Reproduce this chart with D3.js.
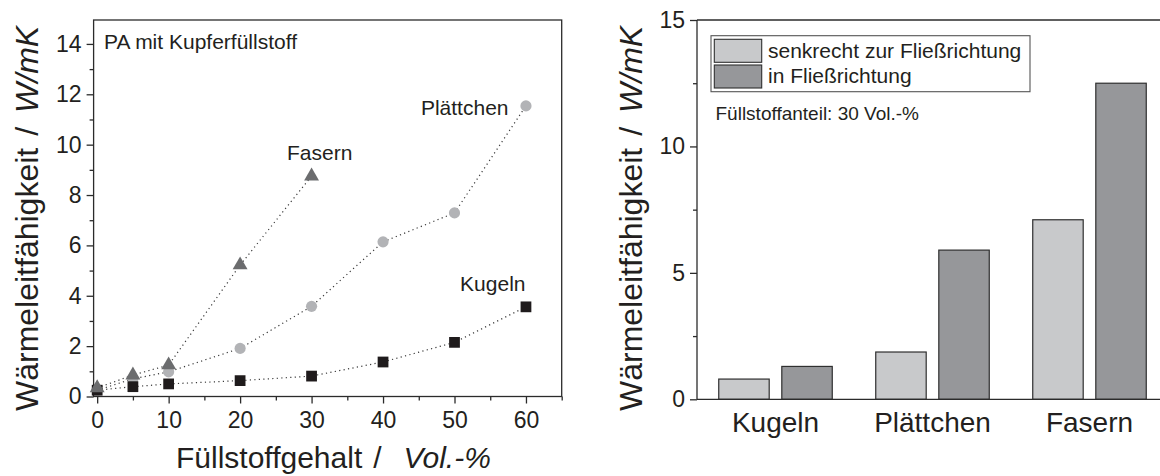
<!DOCTYPE html>
<html>
<head>
<meta charset="utf-8">
<script src="https://cdn.jsdelivr.net/npm/d3@7"></script>
<style>
  html, body { margin: 0; padding: 0; background: #fff; }
  svg { display: block; font-family: "Liberation Sans", Arial, Helvetica, sans-serif; }
</style>
</head>
<body>
<svg id="chart" width="1160" height="476"></svg>
<script>
// Wärmeleitfähigkeit von PA mit Kupferfüllstoff
const fillContent = [0, 5, 10, 20, 30, 40, 50, 60];      // Vol.-%
const kugelnValues = [0.25, 0.39, 0.5, 0.63, 0.81, 1.37, 2.15, 3.56];
const plaettchenValues = [0.25, 0.7, 0.98, 1.91, 3.58, 6.14, 7.29, 11.54];
const fasernContent = [0, 5, 10, 20, 30];
const fasernValues = [0.34, 0.85, 1.25, 5.22, 8.75];

const leftYTicks = [0, 2, 4, 6, 8, 10, 12, 14];
const leftXTicks = [0, 10, 20, 30, 40, 50, 60];

// Balkendiagramm bei 30 Vol.-%
const shapes = ["Kugeln", "Plättchen", "Fasern"];
const directions = ["senkrecht zur Fließrichtung", "in Fließrichtung"];
const perpendicularValues = [0.8, 1.87, 7.1];
const parallelValues = [1.3, 5.9, 12.5];
const rightYTicks = [0, 5, 10, 15];

const ink = "#231f20";
const axisColor = "#2b2b2b";
const svg = d3.select("#chart");

function minorTicks(axis, values, len) {
  return axis.tickValues(values).tickSize(len).tickFormat("");
}
function styleAxis(g) {
  g.select(".domain").remove();
  g.selectAll("line").attr("stroke", axisColor).attr("stroke-width", 1.3);
  g.selectAll("text").attr("fill", ink).style("font-size", "23px");
}

/* ---------- linkes Diagramm ---------- */
const xL = d3.scaleLinear().domain([-0.5, 65]).range([93.6, 561.7]);
const yL = d3.scaleLinear().domain([0, 14.95]).range([396.5, 20]);

const left = svg.append("g");

// Achsen
left.append("g").attr("transform", `translate(${xL.range()[0]},0)`)
  .call(d3.axisLeft(yL).tickValues(leftYTicks).tickSize(7).tickPadding(5).tickFormat(d3.format("d")))
  .call(styleAxis);
left.append("g").attr("transform", `translate(${xL.range()[0]},0)`)
  .call(minorTicks(d3.axisLeft(yL), [1, 3, 5, 7, 9, 11, 13], 4)).call(styleAxis);
left.append("g").attr("transform", `translate(0,${yL(0)})`)
  .call(d3.axisBottom(xL).tickValues(leftXTicks).tickSize(7).tickPadding(8).tickFormat(d3.format("d")))
  .call(styleAxis);
left.append("g").attr("transform", `translate(0,${yL(0)})`)
  .call(minorTicks(d3.axisBottom(xL), [5, 15, 25, 35, 45, 55, 65], 4)).call(styleAxis);

// Rahmen
left.append("rect")
  .attr("x", xL.range()[0]).attr("y", yL.range()[1])
  .attr("width", xL.range()[1] - xL.range()[0])
  .attr("height", yL.range()[0] - yL.range()[1])
  .attr("fill", "none").attr("stroke", axisColor).attr("stroke-width", 1.3);

// punktierte Verbindungslinien
const line = d3.line().x(d => xL(d[0])).y(d => yL(d[1]));
const seriesL = [
  { x: fillContent, v: plaettchenValues, sym: d3.symbolCircle, size: 98, color: "#b2b3b6" },
  { x: fillContent, v: kugelnValues, sym: d3.symbolSquare, size: 116, color: "#1f1b1c" },
  { x: fasernContent, v: fasernValues, sym: d3.symbolTriangle, size: 96, color: "#6b6c6e" }
];
seriesL.forEach(s => {
  left.append("path")
    .attr("d", line(s.x.map((x, i) => [x, s.v[i]])))
    .attr("fill", "none").attr("stroke", "#3a3a3a")
    .attr("stroke-width", 1.2).attr("stroke-dasharray", "1.2,3.3");
});
seriesL.forEach(s => {
  left.append("g").selectAll("path").data(s.x.map((x, i) => [x, s.v[i]])).join("path")
    .attr("transform", d => `translate(${xL(d[0])},${yL(d[1])})`)
    .attr("d", d3.symbol().type(s.sym).size(s.size))
    .attr("fill", s.color);
});

// Beschriftungen
const lblStyle = sel => sel.attr("fill", ink).style("font-size", "21px");
left.append("text").attr("x", 104).attr("y", 48.5).text("PA mit Kupferfüllstoff").call(lblStyle);
left.append("text").attr("x", 287).attr("y", 160).text("Fasern").call(lblStyle);
left.append("text").attr("x", 508.5).attr("y", 115).attr("text-anchor", "end").text("Plättchen").call(lblStyle);
left.append("text").attr("x", 525.5).attr("y", 291).attr("text-anchor", "end").text("Kugeln").call(lblStyle);

// Achsentitel
const xTitle = left.append("text").attr("x", 176).attr("y", 468)
  .attr("fill", ink).style("font-size", "30px");
xTitle.append("tspan").text("Füllstoffgehalt");
xTitle.append("tspan").attr("dx", 11).text("/");
xTitle.append("tspan").attr("dx", 22).style("font-style", "italic").text("Vol.-%");

function yTitle(g, x) {
  const t = g.append("text")
    .attr("transform", `translate(${x},411) rotate(-90)`)
    .attr("fill", ink).style("font-size", "32px");
  t.append("tspan").text("Wärmeleitfähigkeit");
  t.append("tspan").attr("dx", 12).text("/");
  t.append("tspan").attr("dx", 14).style("font-style", "italic").text("W/mK");
}
yTitle(left, 37.5);

/* ---------- rechtes Diagramm ---------- */
const x0 = 697;
const yR = d3.scaleLinear().domain([0, 15]).range([399.3, 20]);
const xR = d3.scaleBand().domain(shapes).range([x0, x0 + 471]).paddingInner(0.277).paddingOuter(0.1385);
const xSub = d3.scaleBand().domain(directions).range([0, xR.bandwidth()]).paddingInner(0.2);
const barColors = ["#c8c9cb", "#96979a"];

const right = svg.append("g");

right.append("g").attr("transform", `translate(${x0},0)`)
  .call(d3.axisLeft(yR).tickValues(rightYTicks).tickSize(7).tickPadding(5).tickFormat(d3.format("d")))
  .call(styleAxis);
right.append("g").attr("transform", `translate(${x0},0)`)
  .call(minorTicks(d3.axisLeft(yR), [2.5, 7.5, 12.5], 4)).call(styleAxis);

// Balken
const barData = [];
shapes.forEach((s, i) => {
  barData.push({ shape: s, dir: directions[0], v: perpendicularValues[i], c: barColors[0] });
  barData.push({ shape: s, dir: directions[1], v: parallelValues[i], c: barColors[1] });
});
right.append("g").selectAll("rect").data(barData).join("rect")
  .attr("x", d => xR(d.shape) + xSub(d.dir))
  .attr("y", d => yR(d.v))
  .attr("width", xSub.bandwidth())
  .attr("height", d => yR(0) - yR(d.v))
  .attr("fill", d => d.c)
  .attr("stroke", "#2f2f2f").attr("stroke-width", 1.2);

// Achsenlinien / Rahmen
right.append("line").attr("x1", x0).attr("x2", 1160).attr("y1", yR(0)).attr("y2", yR(0))
  .attr("stroke", axisColor).attr("stroke-width", 1.3);
right.append("line").attr("x1", x0).attr("x2", 1160).attr("y1", yR(15)).attr("y2", yR(15))
  .attr("stroke", axisColor).attr("stroke-width", 1.3);
right.append("line").attr("x1", x0).attr("x2", x0).attr("y1", yR(0)).attr("y2", yR(15))
  .attr("stroke", axisColor).attr("stroke-width", 1.3);

// Kategorien
right.append("g").selectAll("text").data(shapes).join("text")
  .attr("x", d => xR(d) + xR.bandwidth() / 2).attr("y", 431.5)
  .attr("text-anchor", "middle").attr("fill", ink).style("font-size", "28px")
  .text(d => d);

// Legende
const leg = right.append("g");
leg.append("rect").attr("x", 711).attr("y", 35.7).attr("width", 319).attr("height", 56)
  .attr("fill", "#fff").attr("stroke", "#555").attr("stroke-width", 1.1);
directions.forEach((d, i) => {
  leg.append("rect").attr("x", 714.3).attr("y", 39.3 + i * 25.7).attr("width", 47.4).attr("height", 23)
    .attr("fill", barColors[i]).attr("stroke", "#2f2f2f").attr("stroke-width", 1.1);
  leg.append("text").attr("x", 768).attr("y", 58 + i * 25.3).attr("fill", ink)
    .style("font-size", "21px").text(d);
});
right.append("text").attr("x", 715.5).attr("y", 120).attr("fill", ink)
  .style("font-size", "19px").text("Füllstoffanteil: 30 Vol.-%");

yTitle(right, 641.5);
</script>
</body>
</html>
